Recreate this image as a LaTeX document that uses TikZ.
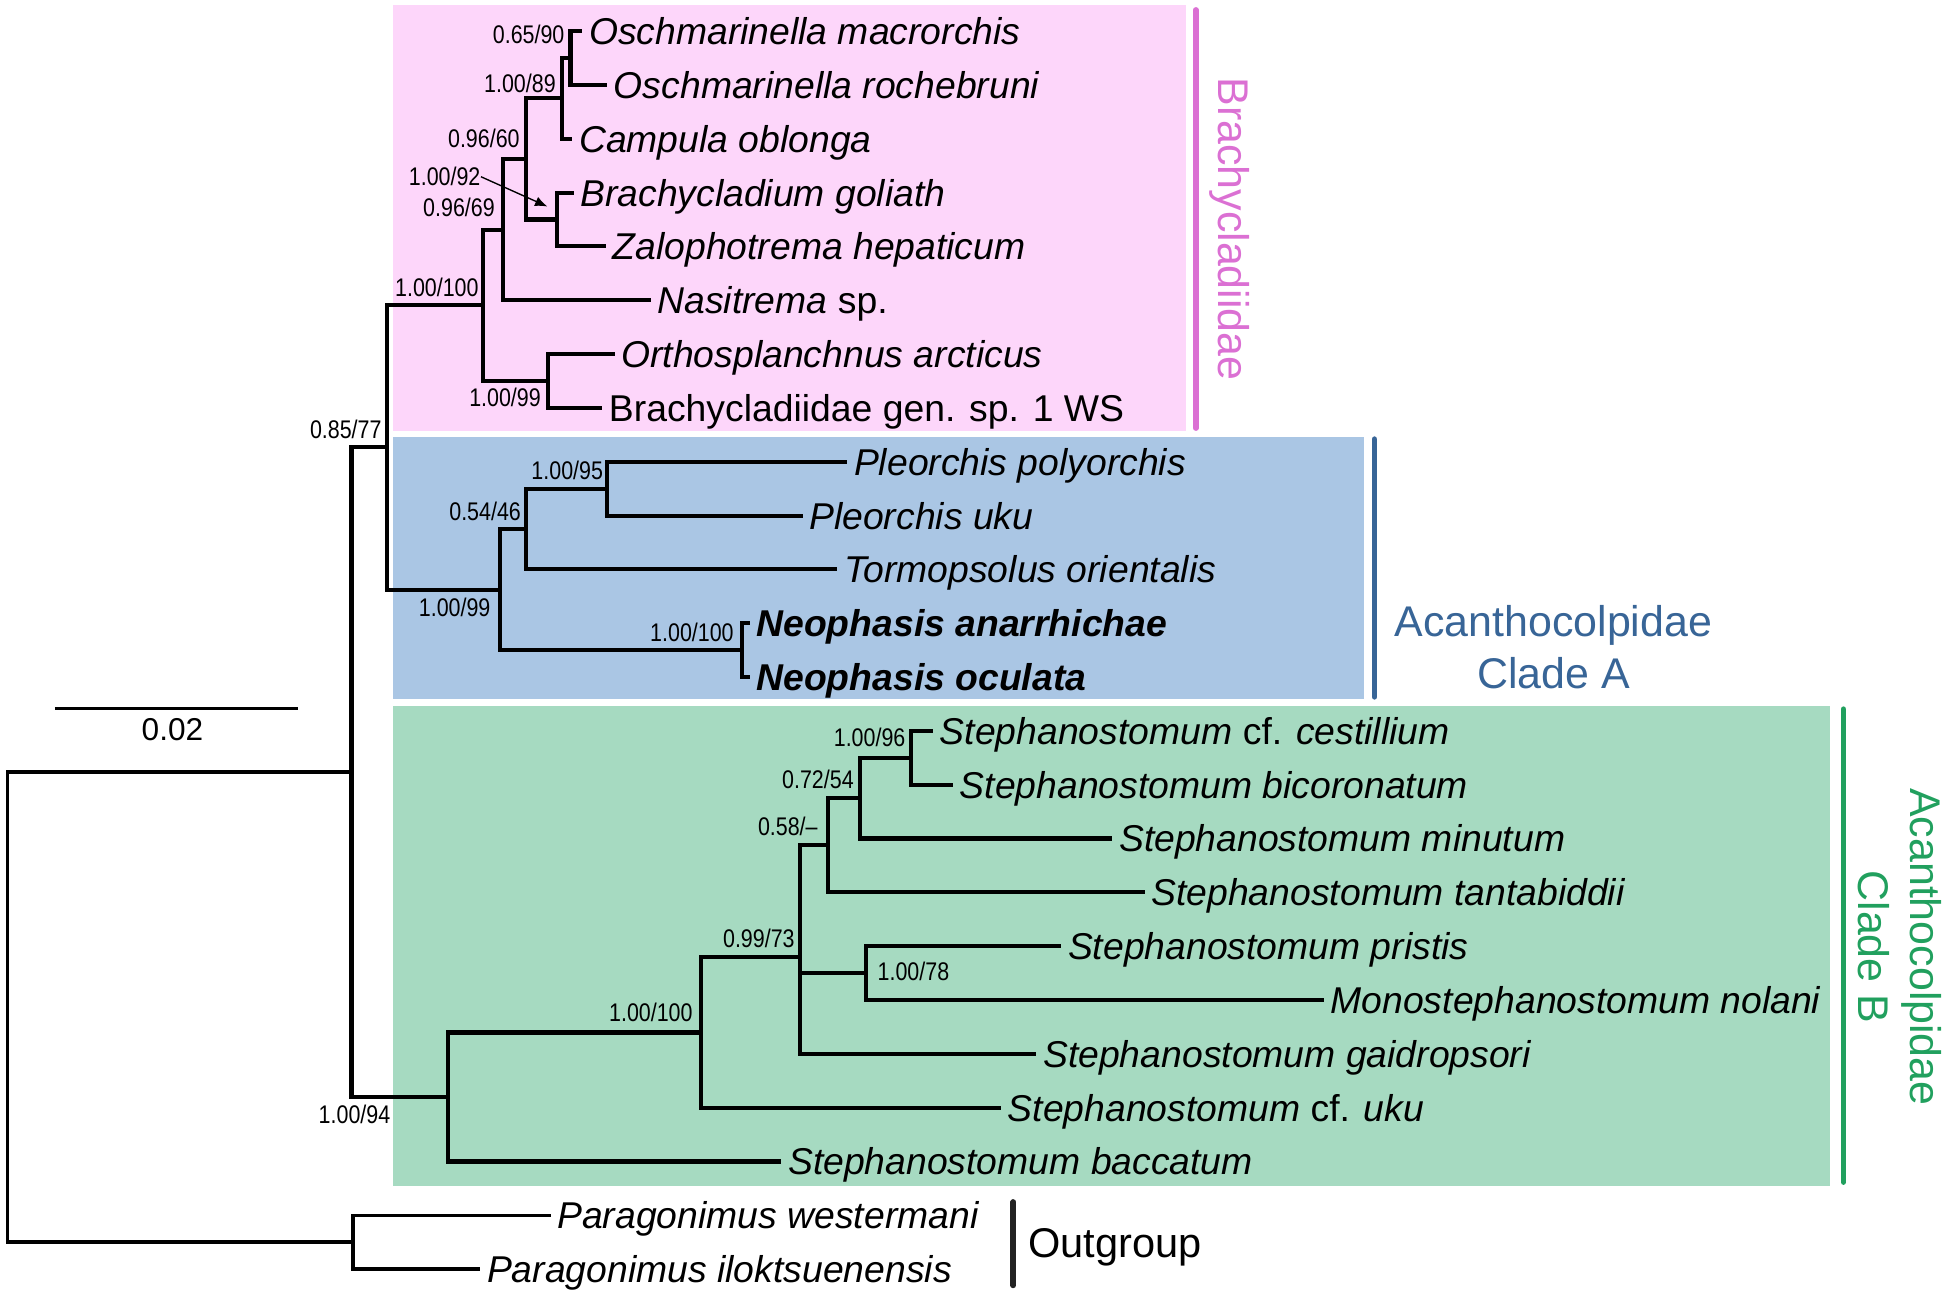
\documentclass[tikz,border=0pt]{standalone}
\usepackage{fontspec}
\setmainfont{Liberation Sans}
\newfontfamily\suppfont[FakeStretch=0.84]{Liberation Sans}
\usetikzlibrary{arrows.meta}
\definecolor{pinkfill}{RGB}{253,214,250}
\definecolor{pinkline}{RGB}{219,112,211}
\definecolor{bluefill}{RGB}{170,198,228}
\definecolor{blueline}{RGB}{56,101,151}
\definecolor{greenfill}{RGB}{166,218,193}
\definecolor{greenline}{RGB}{33,160,94}
\definecolor{outbar}{RGB}{34,34,34}
\begin{document}
\begin{tikzpicture}[x=0.5pt,y=-0.5pt,
  br/.style={line width=1.65pt, line join=miter},
  brthin/.style={line width=1.45pt, line join=miter},
  taxon/.style={anchor=west, inner xsep=2.5pt, inner ysep=0pt, text height=10.8pt, text depth=0pt,
    font=\fontsize{15}{18}\selectfont\itshape},
  taxonbold/.style={taxon, font=\fontsize{15}{18}\selectfont\bfseries\itshape},
  supp/.style={anchor=east, inner sep=0pt, text height=7.3pt, text depth=0pt,
    font=\suppfont\fontsize{10.25}{12}\selectfont},
  clade/.style={inner sep=0pt, align=center, font=\fontsize{17.25}{20.8}\selectfont},
  cladebar/.style={line width=2.3pt, line cap=round}
]
\useasboundingbox (0,0) rectangle (1568,1041);
% clade boxes
\fill[pinkfill] (316,4) rectangle (953,346);
\fill[bluefill] (316,351) rectangle (1096,562);
\fill[greenfill] (316,567) rectangle (1471,953);
% clade bars
\draw[cladebar, pinkline] (961,8) -- (961,344);
\draw[cladebar, blueline] (1104.6,353) -- (1104.6,560);
\draw[cladebar, greenline] (1481.5,570) -- (1481.5,950);
\draw[cladebar, outbar] (814.4,966) -- (814.4,1033);
% clade labels
\node[clade, pinkline, rotate=-90] (lbrachy) at (988,184) {Brachycladiidae};
\node[clade, blueline] (lacA) at (1248.5,520) {Acanthocolpidae\\Clade A};
\node[clade, greenline, rotate=-90] (lacB) at (1527,761) {Acanthocolpidae\\Clade B};
\node[anchor=west, inner sep=0pt, text height=12pt, text depth=0pt,
  font=\fontsize{16.7}{20}\selectfont] (lout) at (826,999) {Outgroup};
% scale bar
\draw[brthin] (44.2,569.5) -- (239.2,569.5);
\node[inner sep=0pt, text height=9.1pt, text depth=0pt, font=\fontsize{12.7}{15}\selectfont]
  (lscale) at (138.6,586) {0.02};
% taxa
\node[taxon] (t0) at (468,25) {Oschmarinella macrorchis};
\node[taxon] (t1) at (488,68.26) {Oschmarinella rochebruni};
\node[taxon] (t2) at (460,111.52) {Campula oblonga};
\node[taxon] (t3) at (461,154.78) {Brachycladium goliath};
\node[taxon] (t4) at (487,198.04) {Zalophotrema hepaticum};
\node[taxon] (t5) at (523,241.3) {Nasitrema \textup{sp.}};
\node[taxon] (t6) at (494,284.56) {Orthosplanchnus arcticus};
\node[taxon] (t7) at (484,327.82) {\textup{Brachycladiidae gen. sp. 1 WS}};
\node[taxon] (t8) at (681,371.08) {Pleorchis polyorchis};
\node[taxon] (t9) at (645,414.34) {Pleorchis uku};
\node[taxon] (t10) at (673,457.6) {Tormopsolus orientalis};
\node[taxonbold] (t11) at (602.5,500.86) {Neophasis anarrhichae};
\node[taxonbold] (t12) at (602.5,544.12) {Neophasis oculata};
\node[taxon] (t13) at (750,587.38) {Stephanostomum \textup{cf.} cestillium};
\node[taxon] (t14) at (766,630.64) {Stephanostomum bicoronatum};
\node[taxon] (t15) at (894,673.9) {Stephanostomum minutum};
\node[taxon] (t16) at (920,717.16) {Stephanostomum tantabiddii};
\node[taxon] (t17) at (853,760.42) {Stephanostomum pristis};
\node[taxon] (t18) at (1064,803.68) {Monostephanostomum nolani};
\node[taxon] (t19) at (833,846.94) {Stephanostomum gaidropsori};
\node[taxon] (t20) at (804.5,890.2) {Stephanostomum \textup{cf.} uku};
\node[taxon] (t21) at (628,933.46) {Stephanostomum baccatum};
\node[taxon] (t22) at (442.5,976.72) {Paragonimus westermani};
\node[taxon] (t23) at (386,1019.98) {Paragonimus iloktsuenensis};
% internal nodes
\coordinate (root) at (6,809.5);
\coordinate (nIn) at (282.5,620.6);
\coordinate (nOut) at (283.5,998.35);
\coordinate (n77) at (311,359.58);
\coordinate (nBr) at (388.2,245.36);
\coordinate (n69) at (404.4,184.52);
\coordinate (n60) at (422.8,127.74);
\coordinate (n89) at (451.5,79.08);
\coordinate (nOs) at (458.5,46.63);
\coordinate (n92) at (447.4,176.41);
\coordinate (nOr) at (440.2,306.19);
\coordinate (nA) at (401.8,473.82);
\coordinate (n46) at (422.7,425.16);
\coordinate (n95) at (488.1,392.71);
\coordinate (n100A) at (596.4,522.49);
\coordinate (nB) at (360,881.6);
\coordinate (n100B) at (563.5,829.8);
\coordinate (n73) at (643,769.4);
\coordinate (n58) at (665.2,679.31);
\coordinate (n54) at (691,641.46);
\coordinate (n96) at (732.5,609.01);
\coordinate (n78) at (696,782.05);
% branches
\foreach \p/\c in {root/nIn, root/nOut, nOut/t22.west, nOut/t23.west}
  \draw[brthin] (\p) |- (\c);
\foreach \p/\c in {nIn/n77, nIn/nB, n77/nBr, n77/nA,
  nBr/n69, nBr/nOr, n69/n60, n69/t5.west, n60/n89, n60/n92,
  n89/nOs, n89/t2.west, nOs/t0.west, nOs/t1.west, n92/t3.west, n92/t4.west,
  nOr/t6.west, nOr/t7.west,
  nA/n46, nA/n100A, n46/n95, n46/t10.west, n95/t8.west, n95/t9.west,
  n100A/t11.west, n100A/t12.west,
  nB/n100B, nB/t21.west, n100B/n73, n100B/t20.west,
  n73/n58, n73/n78, n73/t19.west, n58/n54, n58/t16.west,
  n54/n96, n54/t15.west, n96/t13.west, n96/t14.west,
  n78/t17.west, n78/t18.west}
  \draw[br] (\p) |- (\c);
% support values
\node[supp] (s90) at (454,28) {0.65/90};
\node[supp] (s89) at (447,67) {1.00/89};
\node[supp] (s60) at (418,111.5) {0.96/60};
\node[supp] (s92) at (386.5,142) {1.00/92};
\node[supp] (s69) at (398,167) {0.96/69};
\node[supp] (s100br) at (385,231) {1.00/100};
\node[supp] (s99br) at (435,319) {1.00/99};
\node[supp] (s77) at (307,345.5) {0.85/77};
\node[supp] (s95) at (485,378) {1.00/95};
\node[supp] (s46) at (419,411) {0.54/46};
\node[supp] (s99A) at (394.5,488) {1.00/99};
\node[supp] (s100A) at (590,508) {1.00/100};
\node[supp] (s96) at (728,593) {1.00/96};
\node[supp] (s54) at (686.5,626) {0.72/54};
\node[supp] (s58) at (657.5,664) {0.58/–};
\node[supp] (s73) at (639,754) {0.99/73};
\node[supp, anchor=west] (s78) at (705,781) {1.00/78};
\node[supp] (s100B) at (557,814) {1.00/100};
\node[supp] (s94) at (314,895.5) {1.00/94};
\coordinate (a92) at (440,166);
\draw[line width=0.55pt, -{Latex[length=5pt,width=4pt]}] (s92.east) -- (a92);
\end{tikzpicture}
\end{document}
